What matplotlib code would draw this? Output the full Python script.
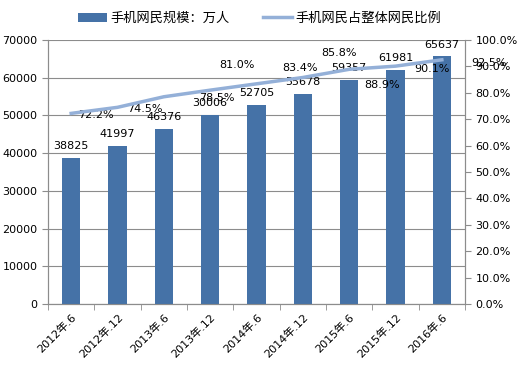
import numpy as np
import matplotlib.pyplot as plt
from matplotlib.ticker import FuncFormatter, FixedLocator

plt.rcParams['font.family'] = ['DejaVu Sans', 'Noto Sans CJK SC']

# data
periods = ['2012年.6', '2012年.12', '2013年.6', '2013年.12', '2014年.6',
           '2014年.12', '2015年.6', '2015年.12', '2016年.6']
users = [38825, 41997, 46376, 50006, 52705, 55678, 59357, 61981, 65637]
user_labels = ['38825', '41997', '46376', '30006', '52705', '55678', '59357', '61981', '65637']
ratio = [72.2, 74.5, 78.5, 81.0, 83.4, 85.8, 88.9, 90.1, 92.5]
# label offsets in pixels (as placed in the source chart)
ratio_offsets = [(25, -2), (27, -2), (53, -1), (27, 25), (43, 16), (36, 24), (33, -16), (36, -3), (47, -3)]

bar_color = '#4572a7'
line_color = '#94b0d8'

fig = plt.figure(figsize=(5.19, 3.66), dpi=100)
ax = fig.add_axes([0.0925, 0.1694, 0.8035, 0.7213])
x = np.arange(len(periods))

ax.bar(x, users, width=0.4, color=bar_color, zorder=3, label='手机网民规模：万人')
ax.set_xlim(-0.5, len(periods) - 0.5)
ax.set_ylim(0, 70000)
ax.set_yticks(range(0, 70001, 10000))
ax.grid(axis='y', color='#8c8c8c', linewidth=0.8, zorder=0)
for xi, v, t in zip(x, users, user_labels):
    ax.annotate(t, (xi, v), xytext=(0, 5), textcoords='offset points',
                ha='center', va='bottom', fontsize=8)

ax.set_xticks(x)
ax.set_xticklabels(periods, rotation=45, ha='right', rotation_mode='anchor', fontsize=8)
ax.xaxis.set_minor_locator(FixedLocator(np.arange(-0.5, len(periods), 1)))
ax.tick_params(axis='x', which='major', length=0, pad=6)
ax.tick_params(axis='x', which='minor', length=4, color='#8c8c8c', direction='out')
ax.tick_params(axis='y', labelsize=8, length=4, color='#8c8c8c')

ax2 = ax.twinx()
ax2.plot(x, ratio, color=line_color, linewidth=2.5, zorder=4, label='手机网民占整体网民比例')
ax2.set_ylim(0, 100)
ax2.set_yticks(range(0, 101, 10))
ax2.yaxis.set_major_formatter(FuncFormatter(lambda v, p: '%.1f%%' % v))
ax2.tick_params(axis='y', labelsize=8, length=4, color='#8c8c8c')
for xi, v, off in zip(x, ratio, ratio_offsets):
    ax2.annotate('%.1f%%' % v, (xi, v), xytext=(off[0] * 0.72, off[1] * 0.72),
                 textcoords='offset points', ha='center', va='center', fontsize=8)

for a in (ax, ax2):
    a.spines['top'].set_visible(False)
    for s in ('left', 'right', 'bottom'):
        a.spines[s].set_color('#8c8c8c')

h1, l1 = ax.get_legend_handles_labels()
h2, l2 = ax2.get_legend_handles_labels()
fig.legend(h1 + h2, l1 + l2, loc='upper center', bbox_to_anchor=(0.5, 1.0), ncol=2,
           frameon=False, handlelength=2.2, handletextpad=0.3, columnspacing=2.5,
           prop={'family': ['Noto Sans CJK SC', 'DejaVu Sans'], 'size': 9.5})

fig.savefig('out.png', dpi=100)
